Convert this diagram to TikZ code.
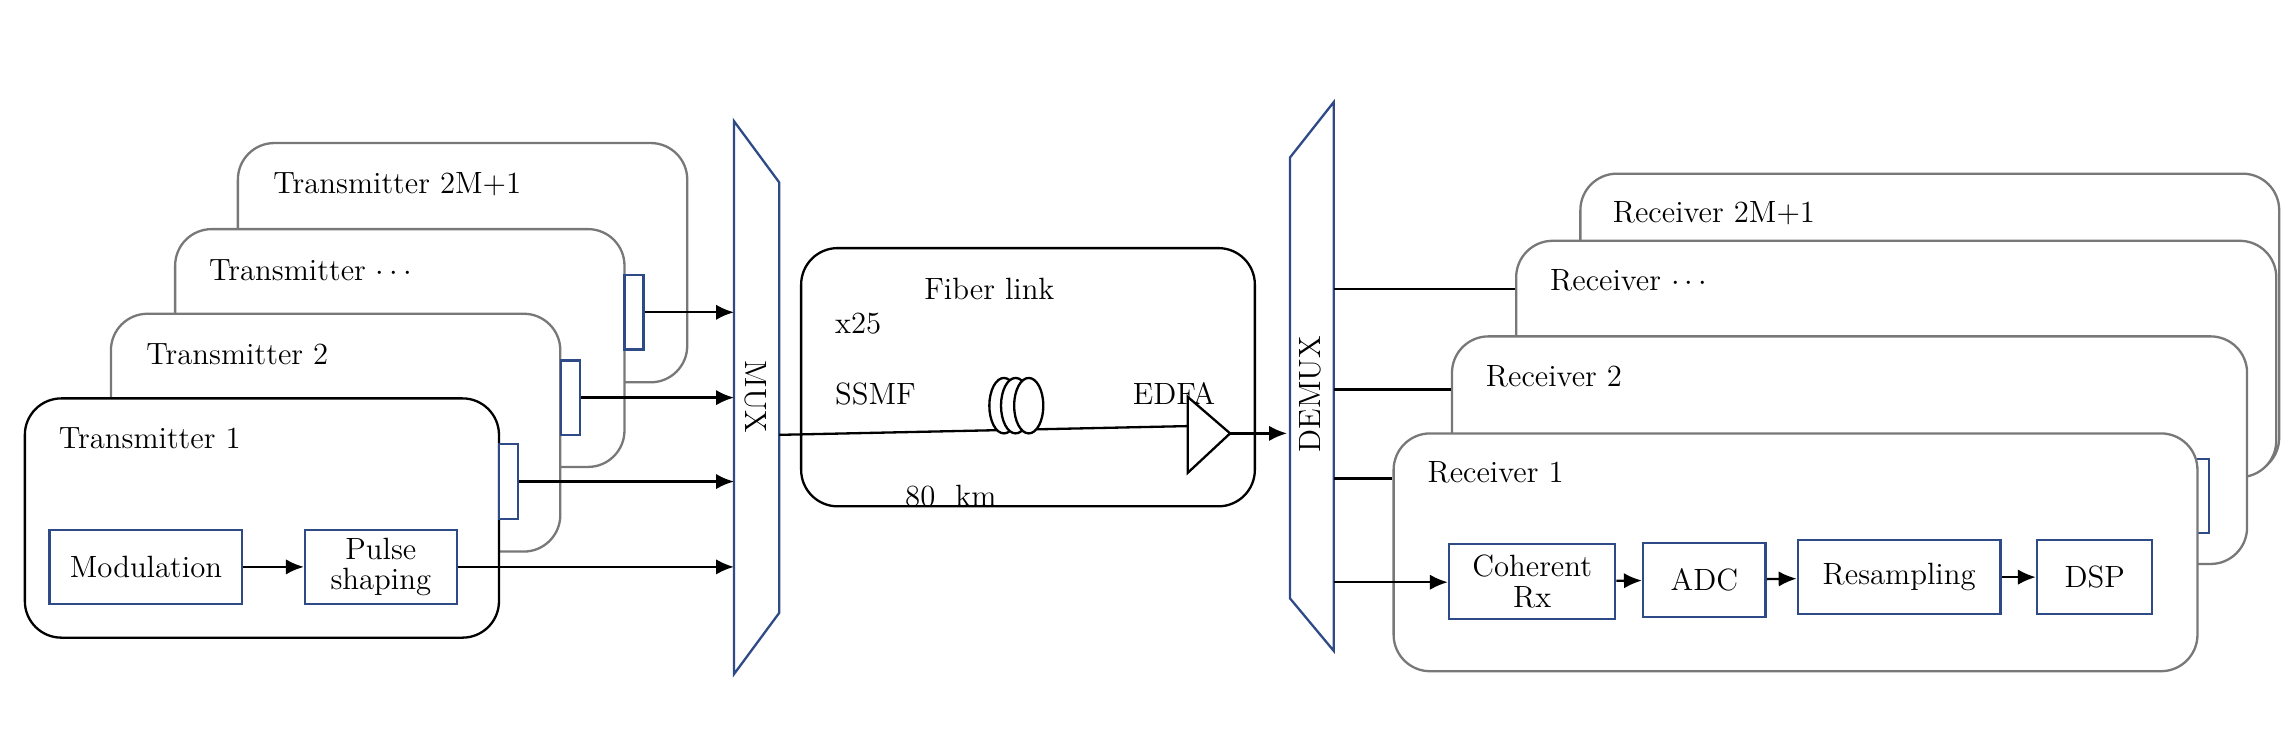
\documentclass[tikz,border=0pt]{standalone}
\usepackage{tikz}
\usetikzlibrary{arrows.meta, positioning}
\definecolor{blk}{RGB}{47,75,135}
\definecolor{frm}{RGB}{120,120,120}
\tikzstyle{txframe} = [rectangle, rounded corners=0.5cm, draw=frm, line width=0.9pt, fill=white, inner sep=0pt]
\tikzstyle{txfront} = [txframe, draw=black]
\tikzstyle{block} = [rectangle, draw=blk, line width=0.9pt, fill=white, text centered, align=center, inner sep=1pt]
\tikzstyle{port} = [rectangle, draw=blk, line width=0.9pt, fill=white, minimum width=0.26cm, minimum height=1.02cm, inner sep=0pt]
\tikzstyle{lbl} = [anchor=west, inner sep=0pt]
\tikzstyle{arrow} = [line width=0.9pt, -{Latex[length=7pt,width=6pt]}]
\tikzstyle{wire} = [line width=0.9pt]

\begin{document}
\begin{tikzpicture}[x=0.02cm, y=-0.02cm, font=\large]
    \useasboundingbox (0,0) rectangle (1568,508);

    % transmitters, back to front
    \node (tx4) [txframe, minimum width=6.16cm, minimum height=3.28cm] at (317,180) {};
    \node (tx3) [txframe, minimum width=6.16cm, minimum height=3.26cm] at (274,238.5) {};
    \node (port3) [port] at (434.5,214) {};
    \node (tx2) [txframe, minimum width=6.16cm, minimum height=3.26cm] at (230,296.5) {};
    \node (port2) [port] at (391,272.5) {};
    \node (tx1) [txfront, minimum width=6.5cm, minimum height=3.28cm] at (179.5,355) {};
    \node (port1) [port] at (348.5,330) {};

    \node [lbl] at (187,126) {Transmitter 2M+1};
    \node [lbl] at (143,185) {Transmitter $\cdots$};
    \node [lbl] at (100,243) {Transmitter 2};
    \node [lbl] at (40,300) {Transmitter 1};

    \node (mod) [block, minimum width=2.64cm, minimum height=1.02cm] at (100,388.5) {Modulation};
    \node (pulse) [block, minimum width=2.08cm, minimum height=1.02cm, text width=1.9cm] at (261,388.5) {Pulse\\[-2pt]shaping};

    % MUX
    \draw [blk, line width=0.9pt] (503,83) -- (534,125) -- (534,420) -- (503,462) -- cycle;
    \node (mux) [rotate=-90] at (518,272) {MUX};
    \coordinate (mx) at (503,0);
    \coordinate (mout) at (534,298);

    \draw [arrow] (mod) -- (pulse);
    \draw [arrow] (port3.east) -- (port3.east -| mx);
    \draw [arrow] (port2.east) -- (port2.east -| mx);
    \draw [arrow] (port1.east) -- (port1.east -| mx);
    \draw [arrow] (pulse.east) -- (pulse.east -| mx);

    % fiber link
    \node (link) [txfront, minimum width=6.22cm, minimum height=3.54cm] at (704.5,258.5) {};
    \node at (678,198) {Fiber link};
    \node [lbl] at (572,222) {x25};
    \node [lbl] at (572,270) {SSMF};
    \node [lbl] at (776,270) {EDFA};
    \node [lbl] at (620,340) {80\ \ km};
    \coordinate (amin) at (814,292);
    \draw [wire] (mout) -- (amin);
    \foreach \cx in {688,696,705}
        \draw [wire, fill=white] (\cx,278) ellipse [x radius=10, y radius=19];
    \draw [wire, fill=white] (814,272) -- (843,297) -- (814,324) -- cycle;
    \coordinate (atip) at (843,297);

    % DEMUX
    \draw [blk, line width=0.9pt] (914,70) -- (884,108) -- (884,410) -- (914,446) -- cycle;
    \node (demux) [rotate=90] at (898,270) {DEMUX};
    \coordinate (din) at (882,297);
    \draw [arrow] (atip) -- (din);

    % receivers, back to front
    \node (rx4) [txframe, minimum width=9.58cm, minimum height=4.12cm] at (1322.5,222) {};
    \node (rx3) [txframe, minimum width=10.42cm, minimum height=3.24cm] at (1299.5,246) {};
    \node (rx2) [txframe, minimum width=10.9cm, minimum height=3.12cm] at (1267.5,308.5) {};
    \node (rport2) [port, minimum width=0.36cm] at (1505,340) {};
    \node (rx1) [txframe, minimum width=11.02cm, minimum height=3.26cm] at (1230.5,378.5) {};

    \node [lbl] at (1105,146) {Receiver 2M+1};
    \node [lbl] at (1062,192) {Receiver $\cdots$};
    \node [lbl] at (1018,258) {Receiver 2};
    \node [lbl] at (978,324) {Receiver 1};

    \node (coh) [block, minimum width=2.28cm, minimum height=1.02cm, text width=2.1cm] at (1050,398.5) {Coherent\\[-2pt]Rx};
    \node (adc) [block, minimum width=1.68cm, minimum height=1.02cm] at (1168,397.5) {ADC};
    \node (resamp) [block, minimum width=2.78cm, minimum height=1.02cm] at (1301.5,395.5) {Resampling};
    \node (dsp) [block, minimum width=1.58cm, minimum height=1.02cm] at (1435.5,395.5) {DSP};

    \coordinate (d3) at (914,198);
    \coordinate (d2) at (914,267);
    \coordinate (d1) at (914,328);
    \coordinate (d0) at (914,399);
    \draw [wire] (d3) -- (d3 -| rx3.west);
    \draw [wire] (d2) -- (d2 -| rx2.west);
    \draw [wire] (d1) -- (d1 -| rx1.west);
    \draw [arrow] (d0) -- (coh.west |- d0);
    \draw [arrow] (coh) -- (adc);
    \draw [arrow] (adc) -- (resamp);
    \draw [arrow] (resamp) -- (dsp);

\end{tikzpicture}
\end{document}
